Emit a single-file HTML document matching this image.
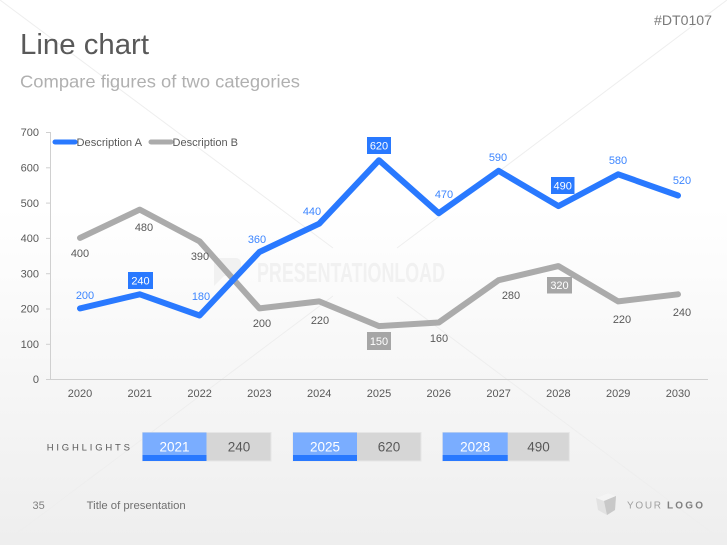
<!DOCTYPE html>
<html><head><meta charset="utf-8"><style>
html,body{margin:0;padding:0;width:727px;height:545px;overflow:hidden;background:#fff}
svg{display:block}
text{font-family:"Liberation Sans",sans-serif}
</style></head><body>
<svg width="727" height="545" viewBox="0 0 727 545" xmlns="http://www.w3.org/2000/svg">
<defs>
<linearGradient id="bg" x1="0" y1="0" x2="0" y2="1">
<stop offset="0" stop-color="#ffffff"/>
<stop offset="0.38" stop-color="#ffffff"/>
<stop offset="1" stop-color="#eeeeee"/>
</linearGradient>
</defs>
<rect width="727" height="545" fill="url(#bg)"/>
<!-- faint diagonal watermark lines -->
<g stroke="#eeeeee" stroke-width="1">
<line x1="0" y1="0" x2="333" y2="248"/>
<line x1="727" y1="0" x2="397" y2="248"/>
<line x1="333" y1="296" x2="0" y2="546"/>
<line x1="397" y1="297" x2="727" y2="544"/>
</g>
<!-- watermark -->
<path d="M214 258 h22 a5 5 0 0 1 5 5 v8 a5 5 0 0 1 -5 5 h-12 l-10 10 z" fill="#f1f1f1"/>
<text x="257" y="282" font-size="28" font-weight="bold" fill="#f1f1f1" textLength="188" lengthAdjust="spacingAndGlyphs">PRESENTATIONLOAD</text>

<!-- header -->
<text x="654" y="25" font-size="13.5" fill="#7a7a7a" textLength="58" lengthAdjust="spacingAndGlyphs">#DT0107</text>
<text x="20" y="54" font-size="29" fill="#595959" textLength="129" lengthAdjust="spacingAndGlyphs">Line chart</text>
<text x="20" y="87.5" font-size="17.5" fill="#b0b0b0" textLength="280" lengthAdjust="spacingAndGlyphs">Compare figures of two categories</text>

<!-- axes -->
<g stroke="#d0d0d0" stroke-width="1">
<line x1="50.5" y1="132" x2="50.5" y2="379.5"/>
<line x1="50" y1="379.5" x2="708" y2="379.5"/>
<line x1="46" y1="132.5" x2="50" y2="132.5"/>
<line x1="46" y1="167.8" x2="50" y2="167.8"/>
<line x1="46" y1="203.1" x2="50" y2="203.1"/>
<line x1="46" y1="238.4" x2="50" y2="238.4"/>
<line x1="46" y1="273.7" x2="50" y2="273.7"/>
<line x1="46" y1="309.0" x2="50" y2="309.0"/>
<line x1="46" y1="344.3" x2="50" y2="344.3"/>
<line x1="46" y1="379.5" x2="50" y2="379.5"/>
</g>
<g font-size="11" fill="#595959" text-anchor="end">
<text x="39" y="136">700</text>
<text x="39" y="171.5">600</text>
<text x="39" y="206.8">500</text>
<text x="39" y="242.1">400</text>
<text x="39" y="277.4">300</text>
<text x="39" y="312.7">200</text>
<text x="39" y="348">100</text>
<text x="39" y="383.2">0</text>
</g>
<g font-size="11" fill="#595959" text-anchor="middle">
<text x="80" y="397">2020</text>
<text x="139.8" y="397">2021</text>
<text x="199.6" y="397">2022</text>
<text x="259.4" y="397">2023</text>
<text x="319.2" y="397">2024</text>
<text x="379" y="397">2025</text>
<text x="438.8" y="397">2026</text>
<text x="498.6" y="397">2027</text>
<text x="558.4" y="397">2028</text>
<text x="618.2" y="397">2029</text>
<text x="678" y="397">2030</text>
</g>

<!-- legend -->
<line x1="55" y1="142" x2="75" y2="142" stroke="#2979ff" stroke-width="5" stroke-linecap="round"/>
<text x="76.5" y="146" font-size="11" fill="#595959" textLength="65.5" lengthAdjust="spacingAndGlyphs">Description A</text>
<line x1="151" y1="142" x2="171" y2="142" stroke="#ababab" stroke-width="5" stroke-linecap="round"/>
<text x="172.5" y="146" font-size="11" fill="#595959" textLength="65.5" lengthAdjust="spacingAndGlyphs">Description B</text>

<!-- series B -->
<polyline fill="none" stroke="#ababab" stroke-width="6" stroke-linejoin="round" stroke-linecap="round"
points="80,237.9 139.8,209.6 199.6,241.4 259.4,308.4 319.2,301.4 379,326.1 438.8,322.5 498.6,280.2 558.4,266.1 618.2,301.4 678,294.3"/>
<!-- series A -->
<polyline fill="none" stroke="#2979ff" stroke-width="6" stroke-linejoin="round" stroke-linecap="round"
points="80,308.4 139.8,294.3 199.6,315.5 259.4,252 319.2,223.7 379,160.2 438.8,213.2 498.6,170.8 558.4,206.1 618.2,174.3 678,195.5"/>

<!-- labels A -->
<g font-size="11" fill="#3d86ff" text-anchor="middle">
<text x="85" y="299">200</text>
<text x="201" y="300">180</text>
<text x="257" y="243">360</text>
<text x="312" y="215">440</text>
<text x="444" y="198">470</text>
<text x="498" y="161">590</text>
<text x="618" y="164">580</text>
<text x="682" y="184">520</text>
</g>
<rect x="128" y="272" width="25" height="17" fill="#2979ff"/>
<rect x="367" y="137" width="24" height="17" fill="#2979ff"/>
<rect x="551" y="177" width="23.5" height="17" fill="#2979ff"/>
<g font-size="11" fill="#ffffff" text-anchor="middle">
<text x="140.5" y="284.5">240</text>
<text x="379" y="149.5">620</text>
<text x="562.7" y="189.5">490</text>
</g>
<!-- labels B -->
<g font-size="11" fill="#595959" text-anchor="middle">
<text x="80" y="257">400</text>
<text x="144" y="231">480</text>
<text x="200" y="260">390</text>
<text x="262" y="327">200</text>
<text x="320" y="324">220</text>
<text x="439" y="342">160</text>
<text x="511" y="299">280</text>
<text x="622" y="323">220</text>
<text x="682" y="316">240</text>
</g>
<rect x="367" y="332" width="24" height="18" fill="#a6a6a6"/>
<rect x="547" y="277" width="25" height="16.5" fill="#a6a6a6"/>
<g font-size="11" fill="#ffffff" text-anchor="middle">
<text x="379" y="345">150</text>
<text x="559.5" y="289">320</text>
</g>

<!-- highlights -->
<text x="46.7" y="450.5" font-size="9.5" fill="#595959" textLength="83.3" lengthAdjust="spacing">HIGHLIGHTS</text>
<g>
<rect x="142.5" y="432.5" width="128.5" height="28.5" fill="#d6d6d6" stroke="#e6e6e6" stroke-width="1"/>
<rect x="142.5" y="432.5" width="64" height="28.5" fill="#7aadff"/>
<rect x="142.5" y="455" width="64" height="6" fill="#2979ff"/>
<rect x="293" y="432.5" width="128" height="28.5" fill="#d6d6d6" stroke="#e6e6e6" stroke-width="1"/>
<rect x="293" y="432.5" width="64" height="28.5" fill="#7aadff"/>
<rect x="293" y="455" width="64" height="6" fill="#2979ff"/>
<rect x="442.7" y="432.5" width="126.6" height="28.5" fill="#d6d6d6" stroke="#e6e6e6" stroke-width="1"/>
<rect x="442.7" y="432.5" width="65" height="28.5" fill="#7aadff"/>
<rect x="442.7" y="455" width="65" height="6" fill="#2979ff"/>
</g>
<g font-size="13.5" text-anchor="middle">
<text x="174.5" y="451.5" fill="#ffffff">2021</text>
<text x="239" y="451.5" fill="#595959">240</text>
<text x="325" y="451.5" fill="#ffffff">2025</text>
<text x="389" y="451.5" fill="#595959">620</text>
<text x="475.2" y="451.5" fill="#ffffff">2028</text>
<text x="538.5" y="451.5" fill="#595959">490</text>
</g>

<!-- footer -->
<text x="32.5" y="509" font-size="11" fill="#808080">35</text>
<text x="86.7" y="509" font-size="11" fill="#707070" textLength="99" lengthAdjust="spacingAndGlyphs">Title of presentation</text>
<path d="M596 498 L608 493 L616 496 L615 510 L607 515 L598 510 Z" fill="#e2e2e2"/>
<path d="M596 498 L608 493 L616 496 L604 501 Z" fill="#f4f4f4"/>
<path d="M604 501 L616 496 L615 510 L607 515 Z" fill="#c8c8c8"/>
<text x="627" y="508.5" font-size="10" fill="#a0a0a0" textLength="34" lengthAdjust="spacing">YOUR</text>
<text x="667" y="508.5" font-size="10" fill="#808080" font-weight="bold" textLength="36" lengthAdjust="spacing">LOGO</text>
</svg>
</body></html>
